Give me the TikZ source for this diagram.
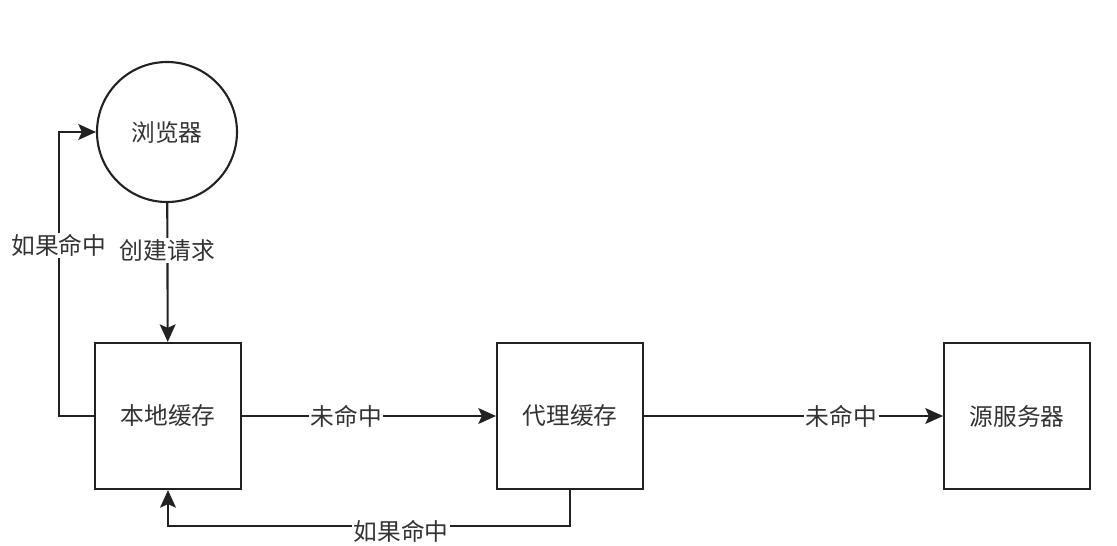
\documentclass[tikz,border=0pt]{standalone}
\usepackage{fontspec}
\setmainfont{Noto Sans CJK SC}
\usetikzlibrary{arrows.meta}
\definecolor{linegray}{HTML}{222222}
\definecolor{textgray}{HTML}{333333}
\tikzset{
  box/.style={draw=linegray, line width=1.2pt, minimum width=146*0.02cm, minimum height=146*0.02cm, text=textgray},
  circ/.style={draw=linegray, line width=1.2pt, circle, minimum size=140*0.02cm, text=textgray},
  flow/.style={draw=linegray, line width=1.2pt, -{Stealth[length=10pt,width=9pt,inset=2pt]}},
  lbl/.style={fill=white, inner sep=1pt, text=textgray}
}
\begin{document}
\begin{tikzpicture}[x=0.02cm, y=-0.02cm, font=\fontsize{13.5}{15}\selectfont]
      \useasboundingbox (0,0) rectangle (1117,545);
      % nodes
      \node[circ] (browser) at (167,132) {浏览器};
      \node[box]  (local)   at (168,416) {本地缓存};
      \node[box]  (proxy)   at (570,416) {代理缓存};
      \node[box]  (origin)  at (1017,416) {源服务器};
      % request
      \draw[flow] (browser) -- node[lbl, pos=0.34] {创建请求} (local);
      % hits
      \draw[flow] (local.west) -- ++(-35,0) |- node[lbl, pos=0.3] {如果命中} (browser.west);
      \draw[flow] (proxy.south) -- ++(0,36) -| node[lbl, pos=0.21, yshift=-3pt] {如果命中} (local.south);
      % misses
      \draw[flow] (local) -- node[lbl, pos=0.41] {未命中} (proxy);
      \draw[flow] (proxy) -- node[lbl, pos=0.66] {未命中} (origin);
\end{tikzpicture}
\end{document}
